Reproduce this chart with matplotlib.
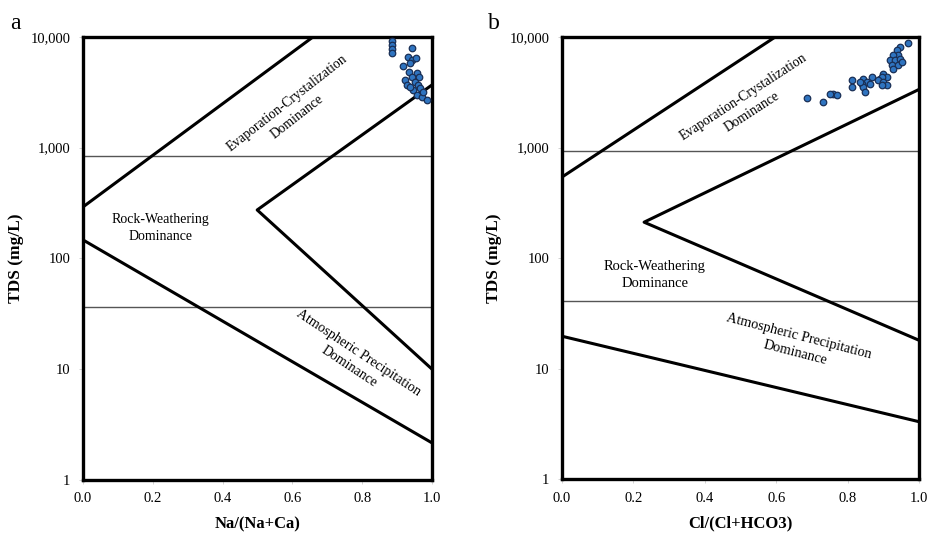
import matplotlib
matplotlib.use("Agg")
import matplotlib.pyplot as plt
from matplotlib.ticker import FixedLocator, FuncFormatter, NullLocator

plt.rcParams["font.family"] = ["Liberation Serif", "DejaVu Serif"]

# panel a: Na/(Na+Ca) vs TDS
a_x = [0.885, 0.885, 0.885, 0.885, 0.942, 0.932, 0.942, 0.954, 0.937, 0.918,
       0.935, 0.956, 0.923, 0.942, 0.964, 0.928, 0.951, 0.961, 0.946, 0.966,
       0.956, 0.970, 0.985, 0.975, 0.937]
a_y = [9270, 8470, 7740, 7130, 7910, 6640, 6200, 6420, 5780, 5470,
       4860, 4760, 4090, 4380, 4380, 3690, 3950, 3690, 3320, 3440,
       2990, 2890, 2700, 3210, 3560]

# panel b: Cl/(Cl+HCO3) vs TDS
b_x = [0.970, 0.947, 0.938, 0.942, 0.928, 0.919, 0.933, 0.947, 0.924, 0.942,
       0.952, 0.928, 0.900, 0.910, 0.891, 0.896, 0.868, 0.886, 0.900, 0.910,
       0.896, 0.844, 0.854, 0.839, 0.863, 0.811, 0.811, 0.844, 0.849, 0.835,
       0.760, 0.769, 0.751, 0.730, 0.685]
b_y = [8880, 8110, 7570, 6920, 6820, 6140, 6140, 6360, 5620, 5540,
       5930, 5170, 4660, 4340, 4200, 4340, 4340, 4050, 3910, 3650,
       3650, 4200, 3910, 3780, 3780, 4050, 3520, 3520, 3180, 3910,
       3070, 2960, 3070, 2580, 2800]

# Gibbs boundary lines (x, TDS)
a_upper = ([0.0, 0.659], [292, 10000])
a_lower = ([0.0, 1.0], [147, 2.16])
a_v = ([1.0, 0.499, 1.0], [3690, 274, 10])
a_hlines = [842, 36.7]

b_upper = ([0.0, 0.597], [540, 10000])
b_lower = ([0.0, 1.0], [19.6, 3.3])
b_v = ([1.0, 0.23, 1.0], [3360, 211, 18])
b_hlines = [925, 40.6]

yticks = [1, 10, 100, 1000, 10000]
xticks = [0.0, 0.2, 0.4, 0.6, 0.8, 1.0]

fig = plt.figure(figsize=(9.35, 5.39), dpi=100)
ax_a = fig.add_axes([0.0888, 0.1095, 0.3733, 0.822])
ax_b = fig.add_axes([0.601, 0.1113, 0.382, 0.820])


def style(ax, xlabel):
    ax.set_yscale("log")
    ax.set_xlim(0, 1)
    ax.set_ylim(1, 10000)
    ax.yaxis.set_major_locator(FixedLocator(yticks))
    ax.yaxis.set_minor_locator(NullLocator())
    ax.yaxis.set_major_formatter(FuncFormatter(lambda v, p: f"{v:,.0f}"))
    ax.set_xticks(xticks)
    ax.set_xticklabels([f"{v:.1f}" for v in xticks])
    ax.tick_params(axis="both", labelsize=10.5, length=3, width=0.6,
                   color="#cccccc", pad=6)
    for s in ax.spines.values():
        s.set_linewidth(2.4)
        s.set_color("black")
    ax.set_xlabel(xlabel, fontsize=12, fontweight="bold", labelpad=8)
    ax.set_ylabel("TDS (mg/L)", fontsize=12.5, fontweight="bold", labelpad=5)


def draw(ax, upper, lower, v, hl, xs, ys):
    for y in hl:
        ax.axhline(y, color="#555555", lw=1.0, zorder=1)
    for ln in (upper, lower, v):
        ax.plot(ln[0], ln[1], color="black", lw=2.2, zorder=2,
                solid_capstyle="butt")
    ax.scatter(xs, ys, s=22, color="#2f74c0", edgecolor="#1a2f55",
               linewidth=0.9, zorder=3, clip_on=False)


draw(ax_a, a_upper, a_lower, a_v, a_hlines, a_x, a_y)
draw(ax_b, b_upper, b_lower, b_v, b_hlines, b_x, b_y)
style(ax_a, "Na/(Na+Ca)")
style(ax_b, "Cl/(Cl+HCO3)")

kw = dict(ha="center", va="center", multialignment="center",
          rotation_mode="anchor", linespacing=1.4)
ax_a.text(0.60, 2200, "Evaporation-Crystalization\nDominance", rotation=38,
          fontsize=9.8, **kw)
ax_a.text(0.221, 188, "Rock-Weathering\nDominance", fontsize=10, **kw)
ax_a.text(0.775, 12.2, "Atmospheric Precipitation\nDominance", rotation=-33.5,
          fontsize=10, **kw)

ax_b.text(0.52, 2450, "Evaporation-Crystalization\nDominance", rotation=33,
          fontsize=9.8, **kw)
ax_b.text(0.26, 69.9, "Rock-Weathering\nDominance", fontsize=10.5, **kw)
ax_b.text(0.658, 16.5, "Atmospheric Precipitation\nDominance", rotation=-14.5,
          fontsize=10.3, **kw)

fig.text(0.011, 0.975, "a", fontsize=17, va="top")
fig.text(0.522, 0.975, "b", fontsize=17, va="top")

fig.savefig("out.png", dpi=100)
